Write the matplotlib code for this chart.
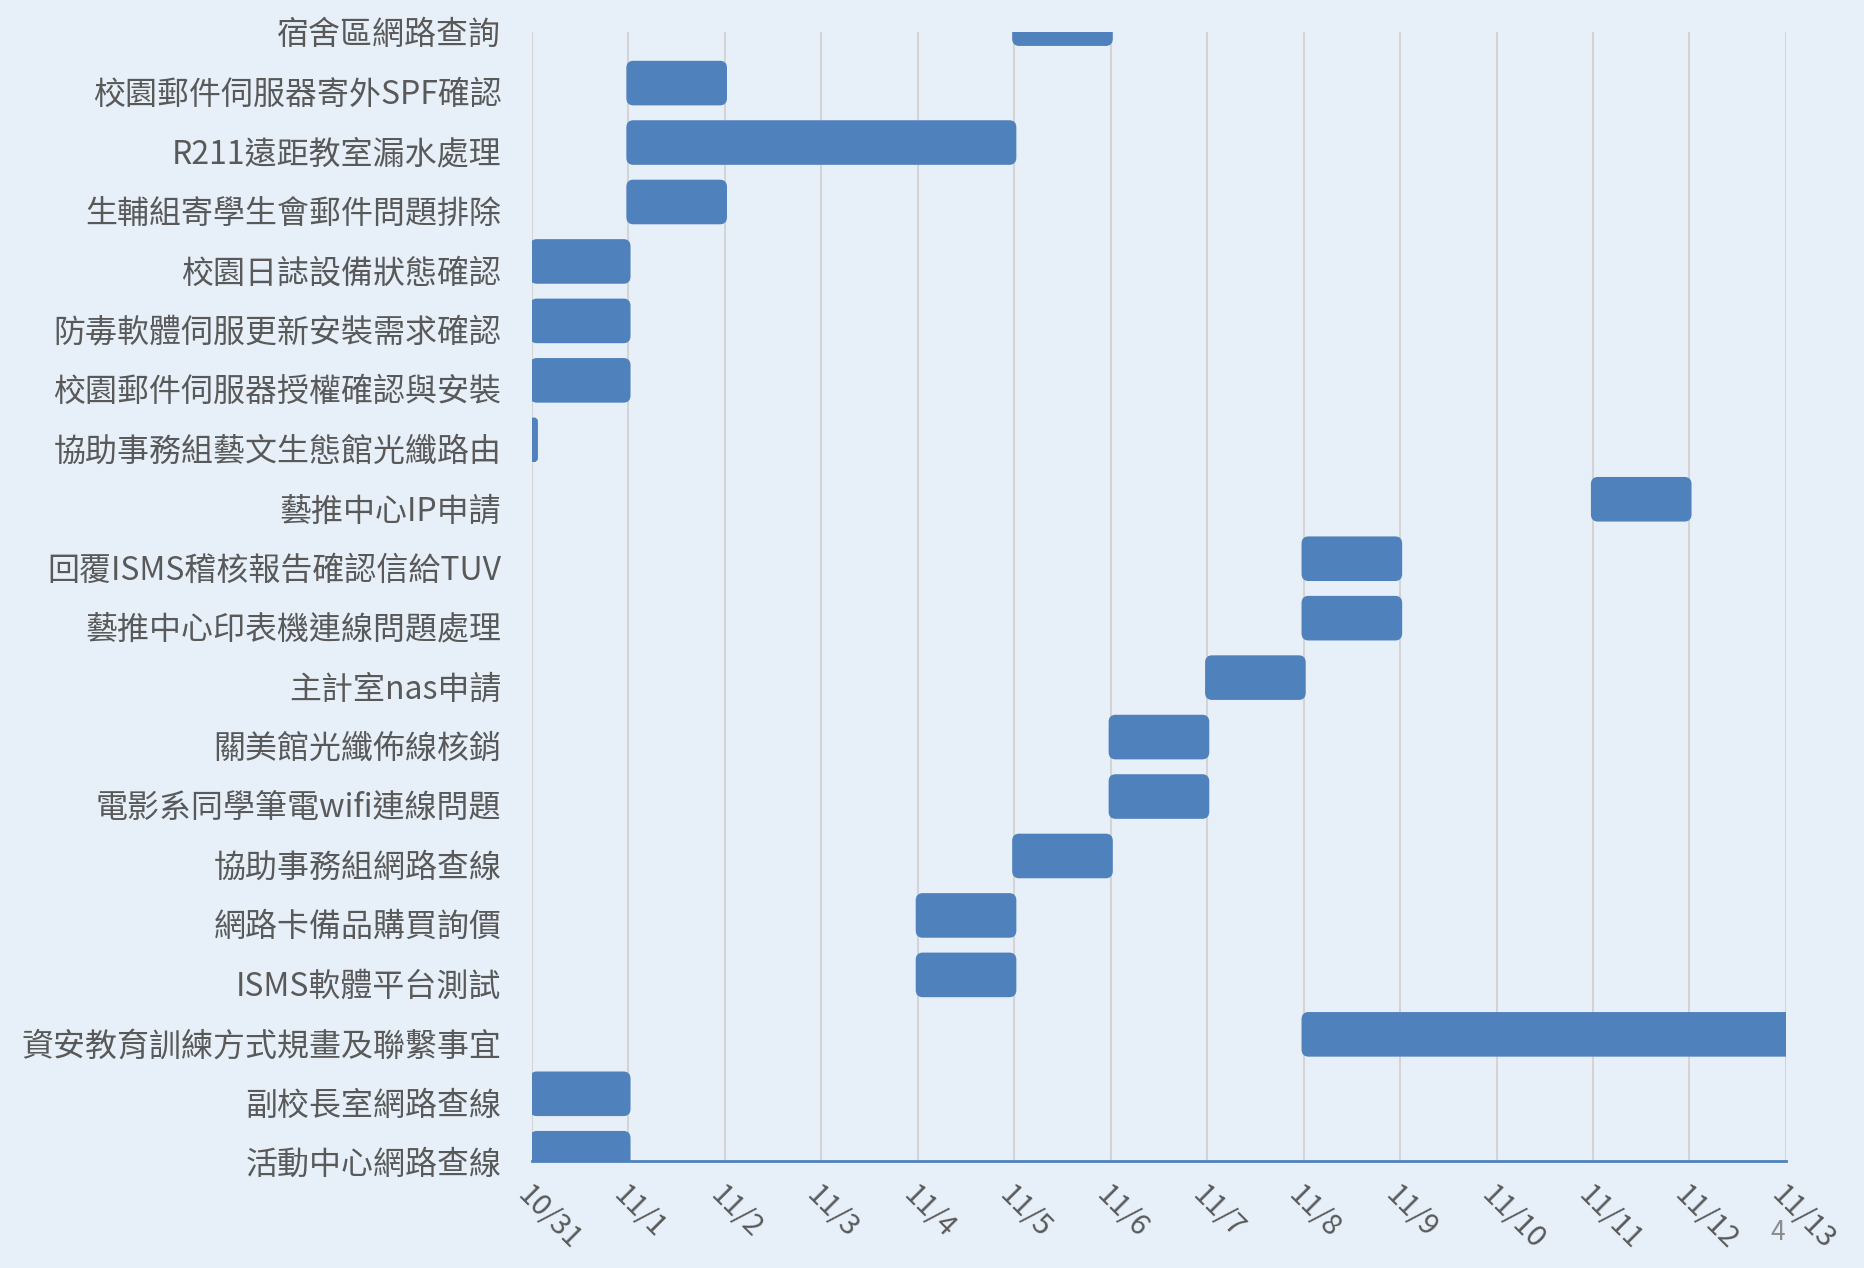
import matplotlib.pyplot as plt
from matplotlib.patches import FancyBboxPatch
from matplotlib.transforms import ScaledTranslation

plt.rcParams['font.family'] = ['Noto Sans CJK TC', 'DejaVu Sans']

# tasks, top to bottom
tasks = ['宿舍區網路查詢', '校園郵件伺服器寄外SPF確認', 'R211遠距教室漏水處理',
         '生輔組寄學生會郵件問題排除', '校園日誌設備狀態確認', '防毒軟體伺服更新安裝需求確認',
         '校園郵件伺服器授權確認與安裝', '協助事務組藝文生態館光纖路由', '藝推中心IP申請',
         '回覆ISMS稽核報告確認信給TUV', '藝推中心印表機連線問題處理', '主計室nas申請',
         '關美館光纖佈線核銷', '電影系同學筆電wifi連線問題', '協助事務組網路查線',
         '網路卡備品購買詢價', 'ISMS軟體平台測試', '資安教育訓練方式規畫及聯繫事宜',
         '副校長室網路查線', '活動中心網路查線']
start = ['11/5', '11/1', '11/1', '11/1', '10/31', '10/31', '10/31', '10/31', '11/11',
         '11/8', '11/8', '11/7', '11/6', '11/6', '11/5', '11/4', '11/4', '11/8',
         '10/31', '10/31']
days = [1, 1, 4, 1, 1, 1, 1, 0.04, 1, 1, 1, 1, 1, 1, 1, 1, 1, 6, 1, 1]

dates = ['10/31', '11/1', '11/2', '11/3', '11/4', '11/5', '11/6', '11/7',
         '11/8', '11/9', '11/10', '11/11', '11/12', '11/13']

bg = '#e7f0f9'
fig = plt.figure(figsize=(18.64, 12.68), dpi=100, facecolor=bg)
ax = fig.add_axes([0.2854, 0.0844, 0.6727, 0.8904])
ax.set_facecolor(bg)

n = len(tasks)
ypos = [n - 1 - i for i in range(n)]
left = [dates.index(s) for s in start]
bars = ax.barh(ypos, days, left=left, height=0.68, color='#4f81bd')

# swap plain rectangles for rounded ones
for b in bars:
    x0, y0 = b.get_x(), b.get_y()
    w, h = b.get_width(), b.get_height()
    r = min(0.05, w / 2)
    p = FancyBboxPatch((x0, y0), w, h,
                       boxstyle='round,pad=0,rounding_size=%g' % r,
                       mutation_aspect=1.68, facecolor='#4f81bd',
                       edgecolor='#4f81bd', linewidth=3, zorder=3)
    ax.add_patch(p)
    b.set_visible(False)

ax.set_xticks(range(len(dates)))
ax.set_xticklabels(dates, rotation=-45, ha='left', va='top',
                   rotation_mode='anchor', fontsize=21, color='#595959')
ax.set_yticks([])
ax.set_xlim(0, len(dates) - 1)
ax.set_ylim(-0.13, n - 1 - 0.14)

# category labels (top one sits above the plot area, so not tick labels)
lab_trans = ax.get_yaxis_transform() + ScaledTranslation(-22 / 72, -6 / 72, fig.dpi_scale_trans)
for y, t in zip(ypos, tasks):
    ax.text(0, y, t, transform=lab_trans, ha='right', va='center_baseline',
            fontsize=23, color='#595959', clip_on=False)

ax.tick_params(axis='both', length=0)
ax.tick_params(axis='x', pad=14)
ax.grid(axis='x', color='#d4d4d4', linewidth=1.5, zorder=0)
for s in ['top', 'right', 'left']:
    ax.spines[s].set_visible(False)
ax.spines['bottom'].set_color('#4f81bd')
ax.spines['bottom'].set_linewidth(2)
ax.spines['bottom'].set_zorder(4)

fig.text(0.9496, 0.022, '4', fontsize=19, color='#8c8c8c')

fig.savefig('out.png', dpi=100, facecolor=bg)
